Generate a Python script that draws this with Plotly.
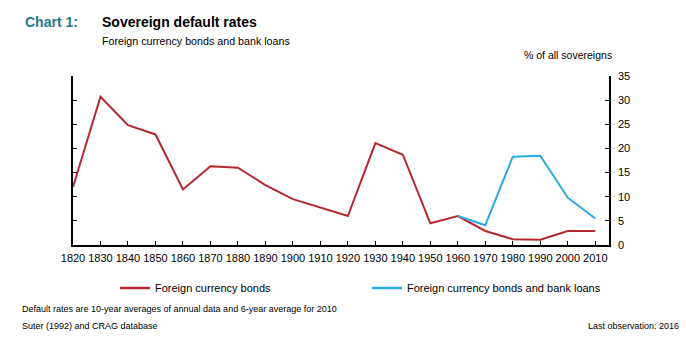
import plotly.graph_objects as go

# Decade averages of sovereign default rates (% of all sovereigns)
years = [1820, 1830, 1840, 1850, 1860, 1870, 1880, 1890, 1900, 1910,
         1920, 1930, 1940, 1950, 1960, 1970, 1980, 1990, 2000, 2010]
bonds = [12.0, 30.7, 24.8, 22.9, 11.5, 16.3, 16.0, 12.4, 9.5, 7.8,
         6.0, 21.1, 18.7, 4.5, 6.0, 2.9, 1.2, 1.1, 2.9, 2.9]
loan_years = [1960, 1970, 1980, 1990, 2000, 2010]
bonds_loans = [6.0, 4.1, 18.3, 18.5, 9.8, 5.5]
y_ticks = [0, 5, 10, 15, 20, 25, 30, 35]

RED = "#B5282E"
BLUE = "#2AA8E0"
FONT = "Liberation Sans, Arial, sans-serif"
NARROW = "Liberation Sans Narrow, Arial Narrow, Liberation Sans, sans-serif"

fig = go.Figure()
fig.add_trace(go.Scatter(x=years, y=bonds, mode="lines",
                         line=dict(color=RED, width=2),
                         name="Foreign currency bonds"))
fig.add_trace(go.Scatter(x=loan_years, y=bonds_loans, mode="lines",
                         line=dict(color=BLUE, width=2),
                         name="Foreign currency bonds and bank loans"))

L, R, T, B = 73, 77, 76, 98
W, H = 686, 343
pw, ph = W - L - R, H - T - B


def px(x):
    return (x - L) / pw


def py(y):
    return (H - B - y) / ph


fig.update_layout(
    width=W, height=H,
    margin=dict(l=L, r=R, t=T, b=B),
    paper_bgcolor="white", plot_bgcolor="white",
    showlegend=False,
    font=dict(family=FONT, size=11, color="black"),
    xaxis=dict(range=[1820, 2015], tickmode="array", tickvals=years,
               ticktext=[str(y) for y in years],
               showline=True, linecolor="black", linewidth=1.5,
               ticks="inside", ticklen=4, tickcolor="black",
               ticklabelstandoff=2,
               showgrid=False, zeroline=False,
               tickfont=dict(size=11, family=FONT)),
    yaxis=dict(range=[0, 35], side="right", tickvals=y_ticks,
               showline=True, linecolor="black", linewidth=1.5,
               mirror="ticks", ticks="inside", ticklen=4, tickcolor="black",
               ticklabelstandoff=5,
               showgrid=False, zeroline=False,
               tickfont=dict(size=11, family=FONT)),
)

ann = [
    dict(text="<b>Chart 1:</b>", x=px(23), y=py(22), xanchor="left", yanchor="middle",
         font=dict(size=14, color="#1E7C8A", family=FONT)),
    dict(text="<b>Sovereign default rates</b>", x=px(100), y=py(22), xanchor="left",
         yanchor="middle", font=dict(size=14, family=FONT)),
    dict(text="Foreign currency bonds and bank loans", x=px(100), y=py(41),
         xanchor="left", yanchor="middle", font=dict(size=10.7, family=FONT)),
    dict(text="% of all sovereigns", x=px(614), y=py(55), xanchor="right",
         yanchor="middle", font=dict(size=10.5, family=FONT)),
    dict(text="Foreign currency bonds", x=px(153), y=py(288), xanchor="left",
         yanchor="middle", font=dict(size=11, family=FONT)),
    dict(text="Foreign currency bonds and bank loans", x=px(405), y=py(288),
         xanchor="left", yanchor="middle", font=dict(size=11, family=FONT)),
    dict(text="Default rates are 10-year averages of annual data and 6-year average for 2010",
         x=px(20), y=py(309), xanchor="left", yanchor="middle",
         font=dict(size=9, family=NARROW)),
    dict(text="Suter (1992) and CRAG database", x=px(20), y=py(326), xanchor="left",
         yanchor="middle", font=dict(size=9, family=NARROW)),
    dict(text="Last observation: 2016", x=px(681), y=py(326), xanchor="right",
         yanchor="middle", font=dict(size=9, family=NARROW)),
]
for a in ann:
    a.update(xref="paper", yref="paper", showarrow=False)
fig.update_layout(annotations=ann)

fig.add_shape(type="line", xref="paper", yref="paper", x0=px(120), x1=px(150),
              y0=py(288), y1=py(288), line=dict(color=RED, width=2.5))
fig.add_shape(type="line", xref="paper", yref="paper", x0=px(372), x1=px(402),
              y0=py(288), y1=py(288), line=dict(color=BLUE, width=2.5))

fig.write_html("out.html")
